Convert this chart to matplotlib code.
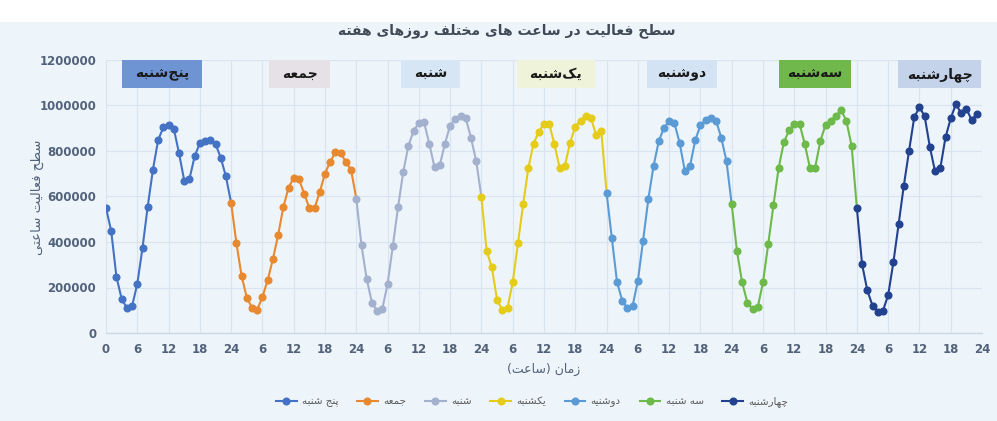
import numpy as np
import matplotlib
matplotlib.use("Agg")
import matplotlib.pyplot as plt
from matplotlib.patches import Rectangle

# ---------------- data ----------------
day_names = ["پنج‌شنبه", "جمعه", "شنبه", "یک‌شنبه", "دوشنبه", "سه‌شنبه", "چهارشنبه"]
legend_names = ["پنج شنبه", "جمعه", "شنبه", "یکشنبه", "دوشنیه", "سه شنبه", "چهارشنبه"]

thursday = [550000, 448000, 247000, 150000, 110000, 118000, 216000, 374000, 556000, 718000, 848000, 904000,
            915000, 898000, 791000, 670000, 676000, 777000, 834000, 842000, 850000, 831000, 771000, 688000]
friday = [571000, 397000, 251000, 156000, 111000, 102000, 158000, 232000, 324000, 429000, 552000, 638000,
          683000, 677000, 613000, 549000, 549000, 620000, 701000, 753000, 794000, 791000, 752000, 717000]
saturday = [591000, 385000, 237000, 134000, 96000, 107000, 215000, 381000, 552000, 707000, 823000, 889000,
            924000, 926000, 832000, 729000, 737000, 832000, 912000, 940000, 955000, 943000, 858000, 756000]
sunday = [597000, 361000, 288000, 146000, 101000, 111000, 222000, 394000, 565000, 726000, 832000, 885000,
          920000, 920000, 829000, 726000, 734000, 837000, 907000, 934000, 952000, 945000, 870000, 886000]
monday = [616000, 419000, 225000, 142000, 108000, 120000, 229000, 406000, 587000, 733000, 842000, 902000,
          931000, 923000, 837000, 714000, 733000, 847000, 913000, 936000, 945000, 933000, 858000, 755000]
tuesday = [565000, 361000, 222000, 134000, 105000, 114000, 223000, 391000, 561000, 726000, 838000, 891000,
           917000, 920000, 832000, 726000, 727000, 844000, 915000, 934000, 955000, 980000, 931000, 822000]
wednesday = [550000, 302000, 188000, 120000, 93000, 98000, 166000, 310000, 477000, 647000, 799000, 948000,
             993000, 953000, 818000, 710000, 724000, 860000, 943000, 1007000, 965000, 986000, 937000, 962000]
series = [thursday, friday, saturday, sunday, monday, tuesday, wednesday]

y_ticks = [0, 200000, 400000, 600000, 800000, 1000000, 1200000]

# ---------------- style ----------------
line_colors = ["#4472C4", "#E8892F", "#A3B1CE", "#E5CC1A", "#5B9BD5", "#6DB94A", "#22428F"]
box_colors = ["#6F94D4", "#E6E1E6", "#D6E6F4", "#EEF3D9", "#D3E3F3", "#70B84C", "#C5D3EA"]
box_spans = [(3.1, 18.4), (31.3, 43.0), (56.5, 67.9), (78.8, 93.7), (103.8, 117.1), (129.0, 142.8), (151.8, 167.9)]
BG = "#EEF5FA"
GRID = "#D8E5F1"
TXT = "#52627A"

# ---------------- simple Persian shaping ----------------
FORMS = {
    '\u0627': ('\uFE8D', '\uFE8E', None, None),
    '\u0628': ('\uFE8F', '\uFE90', '\uFE91', '\uFE92'),
    '\u062A': ('\uFE95', '\uFE96', '\uFE97', '\uFE98'),
    '\u062C': ('\uFE9D', '\uFE9E', '\uFE9F', '\uFEA0'),
    '\u062D': ('\uFEA1', '\uFEA2', '\uFEA3', '\uFEA4'),
    '\u062E': ('\uFEA5', '\uFEA6', '\uFEA7', '\uFEA8'),
    '\u062F': ('\uFEA9', '\uFEAA', None, None),
    '\u0631': ('\uFEAD', '\uFEAE', None, None),
    '\u0632': ('\uFEAF', '\uFEB0', None, None),
    '\u0633': ('\uFEB1', '\uFEB2', '\uFEB3', '\uFEB4'),
    '\u0634': ('\uFEB5', '\uFEB6', '\uFEB7', '\uFEB8'),
    '\u0637': ('\uFEC1', '\uFEC2', '\uFEC3', '\uFEC4'),
    '\u0639': ('\uFEC9', '\uFECA', '\uFECB', '\uFECC'),
    '\u0641': ('\uFED1', '\uFED2', '\uFED3', '\uFED4'),
    '\u0644': ('\uFEDD', '\uFEDE', '\uFEDF', '\uFEE0'),
    '\u0645': ('\uFEE1', '\uFEE2', '\uFEE3', '\uFEE4'),
    '\u0646': ('\uFEE5', '\uFEE6', '\uFEE7', '\uFEE8'),
    '\u0647': ('\uFEE9', '\uFEEA', '\uFEEB', '\uFEEC'),
    '\u0648': ('\uFEED', '\uFEEE', None, None),
    '\u067E': ('\uFB56', '\uFB57', '\uFB58', '\uFB59'),
    '\u0686': ('\uFB7A', '\uFB7B', '\uFB7C', '\uFB7D'),
    '\u06A9': ('\uFB8E', '\uFB8F', '\uFB90', '\uFB91'),
    '\u06CC': ('\uFBFC', '\uFBFD', '\uFBFE', '\uFBFF'),
}
MIRROR = {'(': ')', ')': '('}


def fa(text):
    chars = list(text)
    n = len(chars)
    out = []
    for i, c in enumerate(chars):
        if c == '\u200c':
            continue
        if c not in FORMS:
            out.append(c)
            continue
        prev = chars[i - 1] if i > 0 else None
        nxt = chars[i + 1] if i + 1 < n else None
        jp = prev in FORMS and FORMS[prev][2] is not None
        jn = nxt in FORMS and FORMS[c][2] is not None
        iso, fin, ini, med = FORMS[c]
        if jp and jn:
            out.append(med)
        elif jp:
            out.append(fin)
        elif jn:
            out.append(ini)
        else:
            out.append(iso)
    s = ''.join(out)[::-1]
    return ''.join(MIRROR.get(ch, ch) for ch in s)


plt.rcParams['font.family'] = ['DejaVu Sans']

fig = plt.figure(figsize=(9.97, 4.21), dpi=100, facecolor=BG)
# white band on top
fig.patches.append(Rectangle((0, 1 - 22 / 421), 1, 22 / 421, transform=fig.transFigure,
                             facecolor="white", edgecolor="none", zorder=0))

ax = fig.add_axes([106 / 997, 1 - 333 / 421, (982 - 106) / 997, (333 - 60) / 421])
ax.set_facecolor(BG)

handles = []
n_days = len(series)
for d, vals in enumerate(series):
    ys = list(vals)
    if d + 1 < n_days:
        ys = ys + [series[d + 1][0]]
    xs = np.arange(len(ys)) + 24 * d
    ln, = ax.plot(xs, ys, color=line_colors[d], lw=1.5, marker='o', ms=4.8,
                  markevery=list(range(24)), zorder=3 + d, label=fa(legend_names[d]))
    handles.append(ln)

# day boxes
for d in range(n_days):
    x0, x1 = box_spans[d]
    ax.add_patch(Rectangle((x0, 1075000), x1 - x0, 125000, facecolor=box_colors[d],
                           edgecolor="none", zorder=2, clip_on=False))
    ax.text((x0 + x1) / 2, 1137500, fa(day_names[d]), ha='center', va='center',
            fontsize=10, fontweight='bold', color='#1A1A1A', zorder=3)

ax.set_xlim(0, 168)
ax.set_ylim(0, 1200000)
xt = np.arange(0, 169, 6)
ax.set_xticks(xt)
ax.set_xticklabels(['0' if t == 0 else str((t - 1) % 24 + 1) for t in xt])
ax.set_yticks(y_ticks)
ax.set_yticklabels([str(v) for v in y_ticks])
ax.tick_params(length=0, labelsize=8.5, colors=TXT, pad=7)
for lab in ax.get_xticklabels() + ax.get_yticklabels():
    lab.set_fontweight('bold')
ax.grid(True, color=GRID, lw=0.9, zorder=0)
ax.set_axisbelow(True)
for s in ['top', 'right', 'left']:
    ax.spines[s].set_visible(False)
ax.spines['bottom'].set_color('#CBD9E7')
ax.spines['bottom'].set_linewidth(1.0)

fig.text(507 / 997, 1 - 31 / 421, fa("سطح فعالیت در ساعت های مختلف روزهای هفته"),
         ha='center', va='center', fontsize=10, fontweight='bold', color='#404A57')
fig.text(37 / 997, 1 - 197 / 421, fa("سطح فعالیت ساعتی"), rotation=90,
         ha='center', va='center', fontsize=9.5, color=TXT)
fig.text(544 / 997, 1 - 369 / 421, fa("زمان (ساعت)"), ha='center', va='center',
         fontsize=9, color=TXT)

leg = fig.legend(handles=handles, loc='center', bbox_to_anchor=(532 / 997, 1 - 402 / 421),
                 ncol=7, frameon=False, fontsize=7.5, handlelength=2.0, columnspacing=1.8,
                 handletextpad=0.5)
for t in leg.get_texts():
    t.set_color('#595959')

fig.savefig("out.png", dpi=100, facecolor=BG)
